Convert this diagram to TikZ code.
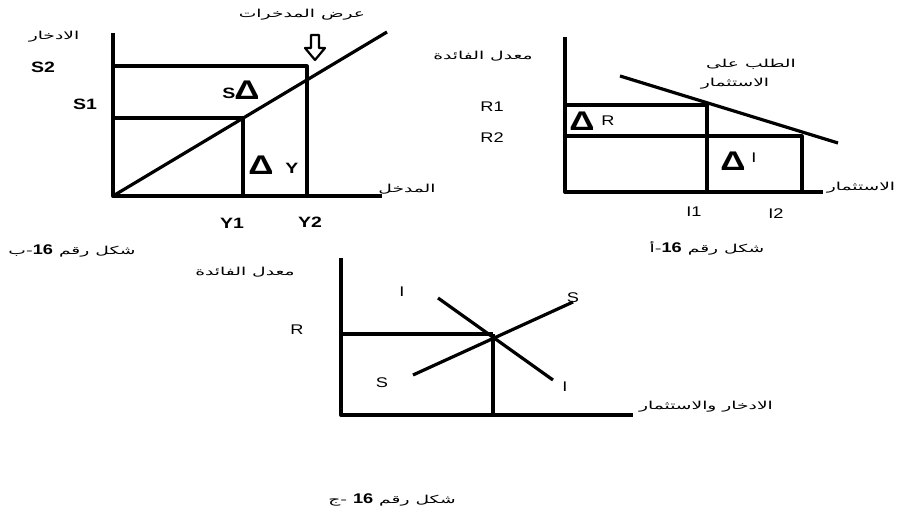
\documentclass[tikz,border=0pt]{standalone}
\usepackage{fontspec}
\TeXXeTstate=1
\setmainfont{Liberation Sans}[FakeStretch=1.3]
\newfontfamily\arabicfont[Script=Arabic,FakeStretch=1.7]{DejaVu Sans}
\newcommand\fignum[1]{{\normalfont\bfseries\fontsize{14}{16}\selectfont #1}}
\tikzset{
	axis/.style={line width=4pt},
	curve/.style={line width=3.2pt},
	ar/.style={font=\arabicfont\fontsize{11}{13}\selectfont, inner sep=0pt},
	lbl/.style={font=\fontsize{14}{16}\selectfont, inner sep=0pt},
	blbl/.style={font=\bfseries\fontsize{15}{17}\selectfont, inner sep=0pt},
	dlt/.style={font=\bfseries\fontsize{27}{29}\selectfont, inner sep=0pt},
}
\begin{document}
\begin{tikzpicture}[x=1pt,y=-1pt, line join = round]
	\useasboundingbox (0,0) rectangle (898,516);
	% shakl 16-b
	\coordinate (Bo) at (113,196);
	\coordinate (Btop) at (113,33);
	\coordinate (Bend) at (382,196);
	\coordinate (Bsup) at (387,32);
	\coordinate (BS1) at (113,118);
	\coordinate (BP1) at (243,118);
	\coordinate (BY1) at (243,196);
	\coordinate (BS2) at (113,66);
	\coordinate (BP2) at (307,66);
	\coordinate (BY2) at (307,196);
	\draw[axis] (Btop)--(Bo)--(Bend);
	\draw[curve] (Bo)--(Bsup);
	\draw[curve] (BS1)--(BP1)--(BY1);
	\draw[curve] (BS2)--(BP2)--(BY2);
	\draw[line width=2.2pt,fill=white] (311,35)--(319,35)--(319,48)--(325,48)--(315,60)--(305,48)--(311,48)--cycle;
	\node[ar] (bsupply) at (302,15) {\beginR عرض المدخرات\endR};
	\node[ar] (bsave) at (54,37) {\beginR الادخار\endR};
	\node[ar] (bincome) at (407,189) {\beginR المدخل\endR};
	\node[blbl] (bs2) at (43,67) {S2};
	\node[blbl] (bs1) at (85,104) {S1};
	\node[blbl] (bds) at (229,93) {S};
	\node[dlt] (bdelta1) at (247,90) {Δ};
	\node[dlt] (bdelta2) at (261,165) {Δ};
	\node[blbl] (bdy) at (292,168) {Y};
	\node[blbl] (by1) at (232,223) {Y1};
	\node[blbl] (by2) at (310,222) {Y2};
	\node[ar] (bcap) at (72,251) {\beginR شكل رقم \beginL\fignum{16}\endL-ب\endR};
	% shakl 16-a
	\coordinate (Ao) at (565,192);
	\coordinate (Atop) at (565,37);
	\coordinate (Aend) at (823,192);
	\coordinate (Ad1) at (620,76);
	\coordinate (Ad2) at (838,143);
	\coordinate (AR1) at (565,105);
	\coordinate (AP1) at (707,105);
	\coordinate (AI1) at (707,192);
	\coordinate (AR2) at (565,136);
	\coordinate (AP2) at (802,136);
	\coordinate (AI2) at (802,192);
	\draw[axis] (Atop)--(Ao)--(Aend);
	\draw[curve] (Ad1)--(Ad2);
	\draw[curve] (AR1)--(AP1)--(AI1);
	\draw[curve] (AR2)--(AP2)--(AI2);
	\node[ar] (arate) at (483,56) {\beginR معدل الفائدة\endR};
	\node[ar] (adem1) at (751,64) {\beginR الطلب على\endR};
	\node[ar] (adem2) at (735,84) {\beginR الاستثمار\endR};
	\node[ar] (ainv) at (861,188) {\beginR الاستثمار\endR};
	\node[lbl] (ar1) at (492,107) {R1};
	\node[lbl] (ar2) at (492,138) {R2};
	\node[dlt] (adelta1) at (582,121) {Δ};
	\node[lbl] (adr) at (608,121) {R};
	\node[dlt] (adelta2) at (733,161) {Δ};
	\node[lbl] (adi) at (754,158) {I};
	\node[lbl] (ai1) at (694,212) {I1};
	\node[lbl] (ai2) at (776,214) {I2};
	\node[ar] (acap) at (707,248) {\beginR شكل رقم \beginL\fignum{16}\endL-أ\endR};
	% shakl 16-j
	\coordinate (Co) at (341,415);
	\coordinate (Ctop) at (341,258);
	\coordinate (Cend) at (633,415);
	\coordinate (CR) at (341,334);
	\coordinate (CE) at (493,334);
	\coordinate (CQ) at (493,415);
	\coordinate (CI1) at (438,298);
	\coordinate (CI2) at (553,380);
	\coordinate (CS1) at (413,375);
	\coordinate (CS2) at (573,302);
	\draw[axis] (Ctop)--(Co)--(Cend);
	\draw[curve] (CR)--(CE);
	\draw[axis] (CE)--(CQ);
	\draw[curve] (CI1)--(CI2);
	\draw[curve] (CS1)--(CS2);
	\node[ar] (crate) at (245,272) {\beginR معدل الفائدة\endR};
	\node[ar] (csi) at (706,407) {\beginR الادخار والاستثمار\endR};
	\node[lbl] (cr) at (297,330) {R};
	\node[lbl] (ci1) at (402,292) {I};
	\node[lbl] (cs2) at (573,298) {S};
	\node[lbl] (cs1) at (382,383) {S};
	\node[lbl] (ci2) at (565,387) {I};
	\node[ar] (ccap) at (392,500) {\beginR شكل رقم \beginL\fignum{16}\endL{} -ج\endR};
\end{tikzpicture}
\end{document}
